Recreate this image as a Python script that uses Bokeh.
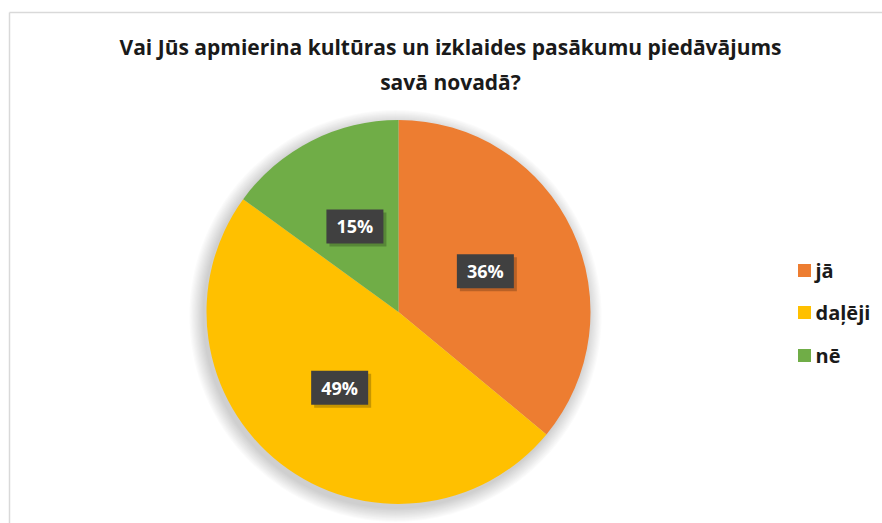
import math
from bokeh.plotting import figure
from bokeh.models import Range1d
from bokeh.core.properties import value
from bokeh.embed import file_html
from bokeh.resources import INLINE

# ---- data ----
title_lines = ["Vai Jūs apmierina kultūras un izklaides pasākumu piedāvājums", "savā novadā?"]
categories = ["jā", "daļēji", "nē"]
shares = [36, 49, 15]
colors = ["#ED7D31", "#FFC000", "#70AD47"]

W, H = 882, 523
FONT = "Open Sans"

def px(x):
    return x

def py(y):
    return H - y

p = figure(width=W, height=H, output_backend="svg", toolbar_location=None,
           x_range=Range1d(0, W), y_range=Range1d(0, H), min_border=0)
p.axis.visible = False
p.grid.visible = False
p.outline_line_color = None
p.background_fill_color = "white"
p.border_fill_color = "white"

# chart area border (top and left visible)
p.line([px(9), px(9)], [py(12), -5], line_color="#d9d9d9", line_width=1.5)
p.line([px(9), W + 5], [py(12), py(12)], line_color="#d9d9d9", line_width=1.5)

# title
p.text(x=[px(450)], y=[py(46)], text=[title_lines[0]], text_font=value(FONT),
       text_font_style="bold", text_font_size="21px", text_color="#1a1a1a",
       text_align="center", text_baseline="middle")
p.text(x=[px(450)], y=[py(81)], text=[title_lines[1]], text_font=value(FONT),
       text_font_style="bold", text_font_size="21px", text_color="#1a1a1a",
       text_align="center", text_baseline="middle")

# pie
cx, cy, r = px(398), py(311.5), 192
# soft shadow
for k in range(12):
    p.circle(x=[cx - 3], y=[cy - 4], radius=r + 1 + k * 1.2, fill_color="black",
             fill_alpha=0.016, line_color=None)

total = sum(shares)
cum = 0
starts, ends, mids = [], [], []
for s in shares:
    a0 = cum / total
    cum += s
    a1 = cum / total
    starts.append(math.pi / 2 - 2 * math.pi * a0)
    ends.append(math.pi / 2 - 2 * math.pi * a1)
    mids.append(math.pi / 2 - 2 * math.pi * (a0 + a1) / 2)

p.wedge(x=cx, y=cy, radius=r, start_angle=starts, end_angle=ends, direction="clock",
        fill_color=colors, line_color=None)

# data labels
lx = [cx + 0.5 * r * math.cos(m) for m in mids]
ly = [cy + 0.5 * r * math.sin(m) for m in mids]
p.rect(x=[v + 3 for v in lx], y=[v - 3 for v in ly], width=57, height=34,
       width_units="screen", height_units="screen", fill_color="black",
       fill_alpha=0.22, line_color=None)
p.rect(x=lx, y=ly, width=57, height=34, width_units="screen", height_units="screen",
       fill_color="#404040", line_color=None)
p.text(x=lx, y=ly, text=[f"{s}%" for s in shares], text_font=value(FONT),
       text_font_style="bold", text_font_size="18px", text_color="white",
       text_align="center", text_baseline="middle")

# legend
leg_y = [py(270), py(312), py(355)]
p.rect(x=[px(804)] * 3, y=leg_y, width=13, height=13, width_units="screen",
       height_units="screen", fill_color=colors, line_color=None)
p.text(x=[px(815)] * 3, y=leg_y, text=categories, text_font=value(FONT),
       text_font_style="bold", text_font_size="20px", text_color="#1a1a1a",
       text_align="left", text_baseline="middle")

open("out.html", "w").write(file_html(p, INLINE))
